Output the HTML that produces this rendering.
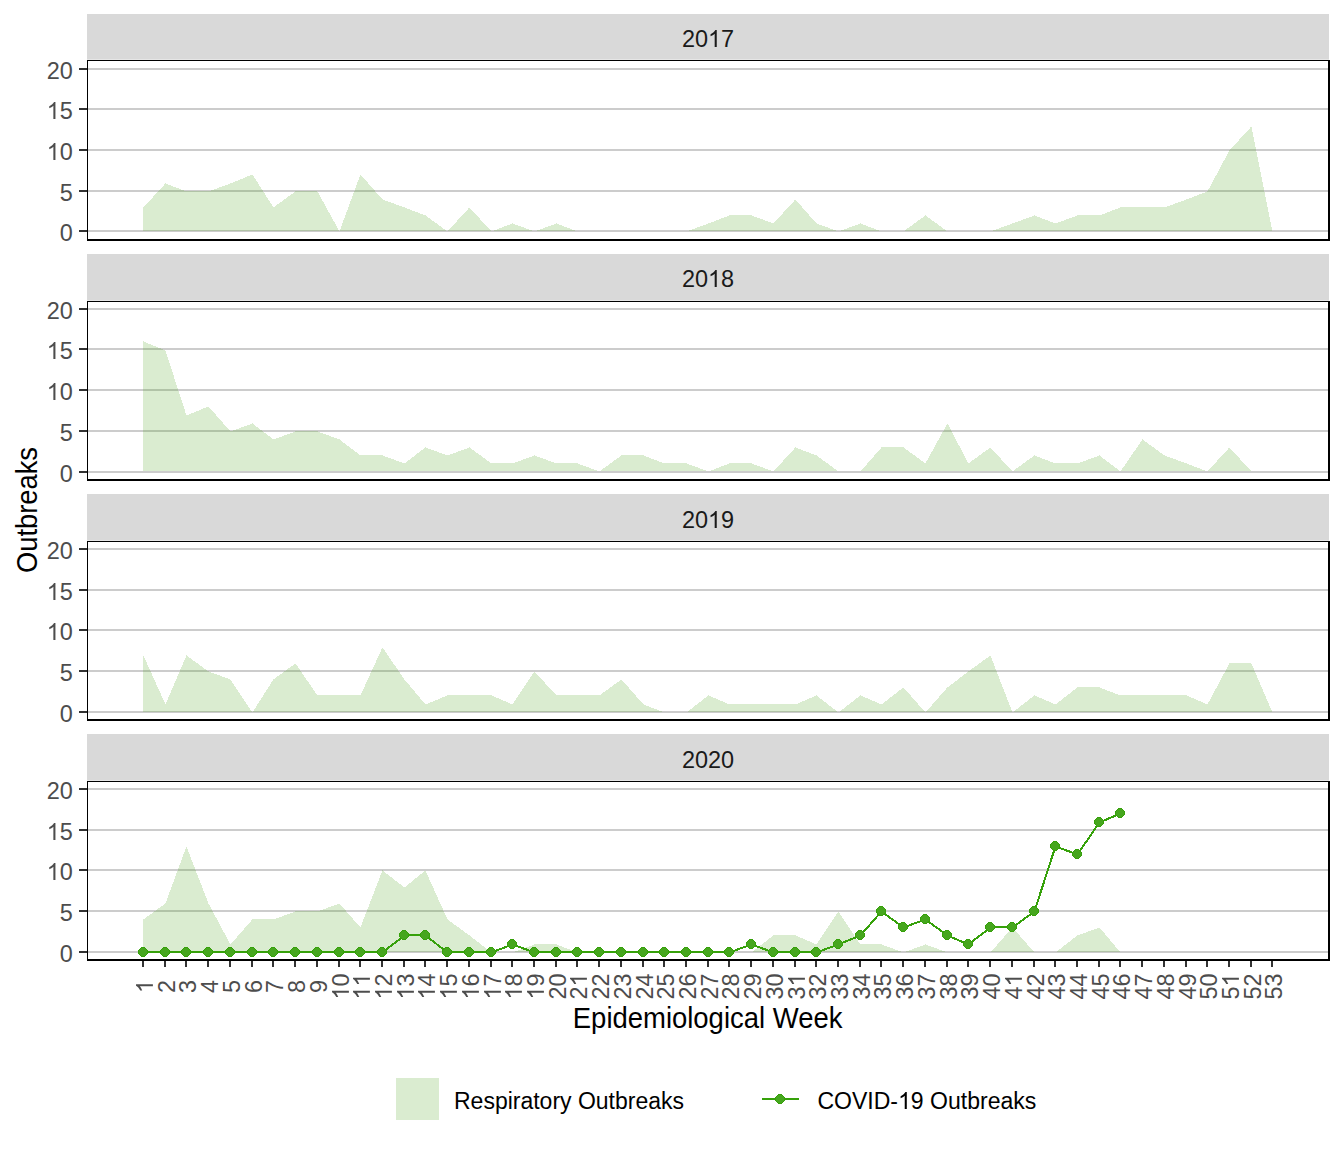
<!DOCTYPE html><html><head><meta charset="utf-8"><style>html,body{margin:0;padding:0;background:#fff;overflow:hidden}svg{display:block}text{font-family:"Liberation Sans",sans-serif}</style></head><body>
<svg width="1344" height="1152" viewBox="0 0 1344 1152">
<rect x="0" y="0" width="1344" height="1152" fill="#fff"/>
<g shape-rendering="crispEdges">
<rect x="87" y="14" width="1242" height="45" fill="#D9D9D9"/>
<rect x="87" y="59" width="1242" height="1" fill="#E6E6E6"/>
<rect x="87" y="68" width="1242" height="2" fill="#CCCCCC"/>
<rect x="79" y="68" width="8" height="2" fill="#333333"/>
<rect x="87" y="108" width="1242" height="2" fill="#CCCCCC"/>
<rect x="79" y="108" width="8" height="2" fill="#333333"/>
<rect x="87" y="149" width="1242" height="2" fill="#CCCCCC"/>
<rect x="79" y="149" width="8" height="2" fill="#333333"/>
<rect x="87" y="190" width="1242" height="2" fill="#CCCCCC"/>
<rect x="79" y="190" width="8" height="2" fill="#333333"/>
<rect x="87" y="230" width="1242" height="2" fill="#CCCCCC"/>
<rect x="79" y="230" width="8" height="2" fill="#333333"/>
<polygon points="143.45,231.45 143.45,207.45 165.45,183.45 186.45,191.45 208.45,191.45 230.45,183.45 252.45,174.45 273.45,207.45 295.45,191.45 317.45,191.45 339.45,231.45 360.45,174.45 382.45,199.45 404.45,207.45 425.45,215.45 447.45,231.45 469.45,207.45 491.45,231.45 512.45,223.45 534.45,231.45 556.45,223.45 577.45,231.45 599.45,231.45 621.45,231.45 643.45,231.45 664.45,231.45 686.45,231.45 708.45,223.45 729.45,215.45 751.45,215.45 773.45,223.45 795.45,199.45 816.45,223.45 838.45,231.45 860.45,223.45 881.45,231.45 903.45,231.45 925.45,215.45 947.45,231.45 968.45,231.45 990.45,231.45 1012.45,223.45 1034.45,215.45 1055.45,223.45 1077.45,215.45 1099.45,215.45 1120.45,207.45 1142.45,207.45 1164.45,207.45 1186.45,199.45 1207.45,191.45 1229.45,150.45 1251.45,126.45 1272.45,231.45 1272.45,231.45" fill="#46A014" fill-opacity="0.2"/>
<rect x="87" y="60" width="1242" height="1" fill="#000"/>
<rect x="87" y="239" width="1242" height="2" fill="#000"/>
<rect x="87" y="60" width="1" height="181" fill="#000"/>
<rect x="1328" y="60" width="2" height="181" fill="#000"/>
<rect x="87" y="254" width="1242" height="46" fill="#D9D9D9"/>
<rect x="87" y="300" width="1242" height="1" fill="#E6E6E6"/>
<rect x="87" y="308" width="1242" height="2" fill="#CCCCCC"/>
<rect x="79" y="308" width="8" height="2" fill="#333333"/>
<rect x="87" y="348" width="1242" height="2" fill="#CCCCCC"/>
<rect x="79" y="348" width="8" height="2" fill="#333333"/>
<rect x="87" y="389" width="1242" height="2" fill="#CCCCCC"/>
<rect x="79" y="389" width="8" height="2" fill="#333333"/>
<rect x="87" y="430" width="1242" height="2" fill="#CCCCCC"/>
<rect x="79" y="430" width="8" height="2" fill="#333333"/>
<rect x="87" y="471" width="1242" height="2" fill="#CCCCCC"/>
<rect x="79" y="471" width="8" height="2" fill="#333333"/>
<polygon points="143.45,471.45 143.45,341.45 165.45,350.45 186.45,415.45 208.45,406.45 230.45,431.45 252.45,423.45 273.45,439.45 295.45,431.45 317.45,431.45 339.45,439.45 360.45,455.45 382.45,455.45 404.45,463.45 425.45,447.45 447.45,455.45 469.45,447.45 491.45,463.45 512.45,463.45 534.45,455.45 556.45,463.45 577.45,463.45 599.45,471.45 621.45,455.45 643.45,455.45 664.45,463.45 686.45,463.45 708.45,471.45 729.45,463.45 751.45,463.45 773.45,471.45 795.45,447.45 816.45,455.45 838.45,471.45 860.45,471.45 881.45,447.45 903.45,447.45 925.45,463.45 947.45,423.45 968.45,463.45 990.45,447.45 1012.45,471.45 1034.45,455.45 1055.45,463.45 1077.45,463.45 1099.45,455.45 1120.45,471.45 1142.45,439.45 1164.45,455.45 1186.45,463.45 1207.45,471.45 1229.45,447.45 1251.45,471.45 1272.45,471.45 1272.45,471.45" fill="#46A014" fill-opacity="0.2"/>
<rect x="87" y="301" width="1242" height="1" fill="#000"/>
<rect x="87" y="479" width="1242" height="2" fill="#000"/>
<rect x="87" y="301" width="1" height="180" fill="#000"/>
<rect x="1328" y="301" width="2" height="180" fill="#000"/>
<rect x="87" y="494" width="1242" height="46" fill="#D9D9D9"/>
<rect x="87" y="540" width="1242" height="1" fill="#E6E6E6"/>
<rect x="87" y="548" width="1242" height="2" fill="#CCCCCC"/>
<rect x="79" y="548" width="8" height="2" fill="#333333"/>
<rect x="87" y="589" width="1242" height="2" fill="#CCCCCC"/>
<rect x="79" y="589" width="8" height="2" fill="#333333"/>
<rect x="87" y="629" width="1242" height="2" fill="#CCCCCC"/>
<rect x="79" y="629" width="8" height="2" fill="#333333"/>
<rect x="87" y="670" width="1242" height="2" fill="#CCCCCC"/>
<rect x="79" y="670" width="8" height="2" fill="#333333"/>
<rect x="87" y="711" width="1242" height="2" fill="#CCCCCC"/>
<rect x="79" y="711" width="8" height="2" fill="#333333"/>
<polygon points="143.45,712.45 143.45,655.45 165.45,704.45 186.45,655.45 208.45,671.45 230.45,679.45 252.45,712.45 273.45,679.45 295.45,663.45 317.45,695.45 339.45,695.45 360.45,695.45 382.45,647.45 404.45,679.45 425.45,704.45 447.45,695.45 469.45,695.45 491.45,695.45 512.45,704.45 534.45,671.45 556.45,695.45 577.45,695.45 599.45,695.45 621.45,679.45 643.45,704.45 664.45,712.45 686.45,712.45 708.45,695.45 729.45,704.45 751.45,704.45 773.45,704.45 795.45,704.45 816.45,695.45 838.45,712.45 860.45,695.45 881.45,704.45 903.45,687.45 925.45,712.45 947.45,687.45 968.45,671.45 990.45,655.45 1012.45,712.45 1034.45,695.45 1055.45,704.45 1077.45,687.45 1099.45,687.45 1120.45,695.45 1142.45,695.45 1164.45,695.45 1186.45,695.45 1207.45,704.45 1229.45,663.45 1251.45,663.45 1272.45,712.45 1272.45,712.45" fill="#46A014" fill-opacity="0.2"/>
<rect x="87" y="541" width="1242" height="1" fill="#000"/>
<rect x="87" y="719" width="1242" height="2" fill="#000"/>
<rect x="87" y="541" width="1" height="180" fill="#000"/>
<rect x="1328" y="541" width="2" height="180" fill="#000"/>
<rect x="87" y="734" width="1242" height="46" fill="#D9D9D9"/>
<rect x="87" y="780" width="1242" height="1" fill="#E6E6E6"/>
<rect x="87" y="788" width="1242" height="2" fill="#CCCCCC"/>
<rect x="79" y="788" width="8" height="2" fill="#333333"/>
<rect x="87" y="829" width="1242" height="2" fill="#CCCCCC"/>
<rect x="79" y="829" width="8" height="2" fill="#333333"/>
<rect x="87" y="869" width="1242" height="2" fill="#CCCCCC"/>
<rect x="79" y="869" width="8" height="2" fill="#333333"/>
<rect x="87" y="910" width="1242" height="2" fill="#CCCCCC"/>
<rect x="79" y="910" width="8" height="2" fill="#333333"/>
<rect x="87" y="951" width="1242" height="2" fill="#CCCCCC"/>
<rect x="79" y="951" width="8" height="2" fill="#333333"/>
<polygon points="143.45,952.45 143.45,919.45 165.45,903.45 186.45,846.45 208.45,903.45 230.45,944.45 252.45,919.45 273.45,919.45 295.45,911.45 317.45,911.45 339.45,903.45 360.45,927.45 382.45,870.45 404.45,887.45 425.45,870.45 447.45,919.45 469.45,935.45 491.45,952.45 512.45,952.45 534.45,944.45 556.45,944.45 577.45,952.45 599.45,952.45 621.45,952.45 643.45,952.45 664.45,952.45 686.45,952.45 708.45,952.45 729.45,952.45 751.45,952.45 773.45,935.45 795.45,935.45 816.45,944.45 838.45,911.45 860.45,944.45 881.45,944.45 903.45,952.45 925.45,944.45 947.45,952.45 968.45,952.45 990.45,952.45 1012.45,927.45 1034.45,952.45 1055.45,952.45 1077.45,935.45 1099.45,927.45 1120.45,952.45 1120.45,952.45" fill="#46A014" fill-opacity="0.2"/>
<polyline points="143.45,952.45 165.45,952.45 186.45,952.45 208.45,952.45 230.45,952.45 252.45,952.45 273.45,952.45 295.45,952.45 317.45,952.45 339.45,952.45 360.45,952.45 382.45,952.45 404.45,935.45 425.45,935.45 447.45,952.45 469.45,952.45 491.45,952.45 512.45,944.45 534.45,952.45 556.45,952.45 577.45,952.45 599.45,952.45 621.45,952.45 643.45,952.45 664.45,952.45 686.45,952.45 708.45,952.45 729.45,952.45 751.45,944.45 773.45,952.45 795.45,952.45 816.45,952.45 838.45,944.45 860.45,935.45 881.45,911.45 903.45,927.45 925.45,919.45 947.45,935.45 968.45,944.45 990.45,927.45 1012.45,927.45 1034.45,911.45 1055.45,846.45 1077.45,854.45 1099.45,822.45 1120.45,813.45" fill="none" stroke="#36A10A" stroke-width="2" stroke-linejoin="miter"/>
<polygon points="141,947 145,947 145,948 146,948 146,949 147,949 147,950 148,950 148,954 147,954 147,955 146,955 146,956 145,956 145,957 141,957 141,956 140,956 140,955 139,955 139,954 138,954 138,950 139,950 139,949 140,949 140,948 141,948" fill="#36A10A"/><polygon points="141,948 145,948 145,949 146,949 146,950 147,950 147,954 146,954 146,955 145,955 145,956 141,956 141,955 140,955 140,954 139,954 139,950 140,950 140,949 141,949" fill="#46A61E"/>
<polygon points="163,947 167,947 167,948 168,948 168,949 169,949 169,950 170,950 170,954 169,954 169,955 168,955 168,956 167,956 167,957 163,957 163,956 162,956 162,955 161,955 161,954 160,954 160,950 161,950 161,949 162,949 162,948 163,948" fill="#36A10A"/><polygon points="163,948 167,948 167,949 168,949 168,950 169,950 169,954 168,954 168,955 167,955 167,956 163,956 163,955 162,955 162,954 161,954 161,950 162,950 162,949 163,949" fill="#46A61E"/>
<polygon points="184,947 188,947 188,948 189,948 189,949 190,949 190,950 191,950 191,954 190,954 190,955 189,955 189,956 188,956 188,957 184,957 184,956 183,956 183,955 182,955 182,954 181,954 181,950 182,950 182,949 183,949 183,948 184,948" fill="#36A10A"/><polygon points="184,948 188,948 188,949 189,949 189,950 190,950 190,954 189,954 189,955 188,955 188,956 184,956 184,955 183,955 183,954 182,954 182,950 183,950 183,949 184,949" fill="#46A61E"/>
<polygon points="206,947 210,947 210,948 211,948 211,949 212,949 212,950 213,950 213,954 212,954 212,955 211,955 211,956 210,956 210,957 206,957 206,956 205,956 205,955 204,955 204,954 203,954 203,950 204,950 204,949 205,949 205,948 206,948" fill="#36A10A"/><polygon points="206,948 210,948 210,949 211,949 211,950 212,950 212,954 211,954 211,955 210,955 210,956 206,956 206,955 205,955 205,954 204,954 204,950 205,950 205,949 206,949" fill="#46A61E"/>
<polygon points="228,947 232,947 232,948 233,948 233,949 234,949 234,950 235,950 235,954 234,954 234,955 233,955 233,956 232,956 232,957 228,957 228,956 227,956 227,955 226,955 226,954 225,954 225,950 226,950 226,949 227,949 227,948 228,948" fill="#36A10A"/><polygon points="228,948 232,948 232,949 233,949 233,950 234,950 234,954 233,954 233,955 232,955 232,956 228,956 228,955 227,955 227,954 226,954 226,950 227,950 227,949 228,949" fill="#46A61E"/>
<polygon points="250,947 254,947 254,948 255,948 255,949 256,949 256,950 257,950 257,954 256,954 256,955 255,955 255,956 254,956 254,957 250,957 250,956 249,956 249,955 248,955 248,954 247,954 247,950 248,950 248,949 249,949 249,948 250,948" fill="#36A10A"/><polygon points="250,948 254,948 254,949 255,949 255,950 256,950 256,954 255,954 255,955 254,955 254,956 250,956 250,955 249,955 249,954 248,954 248,950 249,950 249,949 250,949" fill="#46A61E"/>
<polygon points="271,947 275,947 275,948 276,948 276,949 277,949 277,950 278,950 278,954 277,954 277,955 276,955 276,956 275,956 275,957 271,957 271,956 270,956 270,955 269,955 269,954 268,954 268,950 269,950 269,949 270,949 270,948 271,948" fill="#36A10A"/><polygon points="271,948 275,948 275,949 276,949 276,950 277,950 277,954 276,954 276,955 275,955 275,956 271,956 271,955 270,955 270,954 269,954 269,950 270,950 270,949 271,949" fill="#46A61E"/>
<polygon points="293,947 297,947 297,948 298,948 298,949 299,949 299,950 300,950 300,954 299,954 299,955 298,955 298,956 297,956 297,957 293,957 293,956 292,956 292,955 291,955 291,954 290,954 290,950 291,950 291,949 292,949 292,948 293,948" fill="#36A10A"/><polygon points="293,948 297,948 297,949 298,949 298,950 299,950 299,954 298,954 298,955 297,955 297,956 293,956 293,955 292,955 292,954 291,954 291,950 292,950 292,949 293,949" fill="#46A61E"/>
<polygon points="315,947 319,947 319,948 320,948 320,949 321,949 321,950 322,950 322,954 321,954 321,955 320,955 320,956 319,956 319,957 315,957 315,956 314,956 314,955 313,955 313,954 312,954 312,950 313,950 313,949 314,949 314,948 315,948" fill="#36A10A"/><polygon points="315,948 319,948 319,949 320,949 320,950 321,950 321,954 320,954 320,955 319,955 319,956 315,956 315,955 314,955 314,954 313,954 313,950 314,950 314,949 315,949" fill="#46A61E"/>
<polygon points="337,947 341,947 341,948 342,948 342,949 343,949 343,950 344,950 344,954 343,954 343,955 342,955 342,956 341,956 341,957 337,957 337,956 336,956 336,955 335,955 335,954 334,954 334,950 335,950 335,949 336,949 336,948 337,948" fill="#36A10A"/><polygon points="337,948 341,948 341,949 342,949 342,950 343,950 343,954 342,954 342,955 341,955 341,956 337,956 337,955 336,955 336,954 335,954 335,950 336,950 336,949 337,949" fill="#46A61E"/>
<polygon points="358,947 362,947 362,948 363,948 363,949 364,949 364,950 365,950 365,954 364,954 364,955 363,955 363,956 362,956 362,957 358,957 358,956 357,956 357,955 356,955 356,954 355,954 355,950 356,950 356,949 357,949 357,948 358,948" fill="#36A10A"/><polygon points="358,948 362,948 362,949 363,949 363,950 364,950 364,954 363,954 363,955 362,955 362,956 358,956 358,955 357,955 357,954 356,954 356,950 357,950 357,949 358,949" fill="#46A61E"/>
<polygon points="380,947 384,947 384,948 385,948 385,949 386,949 386,950 387,950 387,954 386,954 386,955 385,955 385,956 384,956 384,957 380,957 380,956 379,956 379,955 378,955 378,954 377,954 377,950 378,950 378,949 379,949 379,948 380,948" fill="#36A10A"/><polygon points="380,948 384,948 384,949 385,949 385,950 386,950 386,954 385,954 385,955 384,955 384,956 380,956 380,955 379,955 379,954 378,954 378,950 379,950 379,949 380,949" fill="#46A61E"/>
<polygon points="402,930 406,930 406,931 407,931 407,932 408,932 408,933 409,933 409,937 408,937 408,938 407,938 407,939 406,939 406,940 402,940 402,939 401,939 401,938 400,938 400,937 399,937 399,933 400,933 400,932 401,932 401,931 402,931" fill="#36A10A"/><polygon points="402,931 406,931 406,932 407,932 407,933 408,933 408,937 407,937 407,938 406,938 406,939 402,939 402,938 401,938 401,937 400,937 400,933 401,933 401,932 402,932" fill="#46A61E"/>
<polygon points="423,930 427,930 427,931 428,931 428,932 429,932 429,933 430,933 430,937 429,937 429,938 428,938 428,939 427,939 427,940 423,940 423,939 422,939 422,938 421,938 421,937 420,937 420,933 421,933 421,932 422,932 422,931 423,931" fill="#36A10A"/><polygon points="423,931 427,931 427,932 428,932 428,933 429,933 429,937 428,937 428,938 427,938 427,939 423,939 423,938 422,938 422,937 421,937 421,933 422,933 422,932 423,932" fill="#46A61E"/>
<polygon points="445,947 449,947 449,948 450,948 450,949 451,949 451,950 452,950 452,954 451,954 451,955 450,955 450,956 449,956 449,957 445,957 445,956 444,956 444,955 443,955 443,954 442,954 442,950 443,950 443,949 444,949 444,948 445,948" fill="#36A10A"/><polygon points="445,948 449,948 449,949 450,949 450,950 451,950 451,954 450,954 450,955 449,955 449,956 445,956 445,955 444,955 444,954 443,954 443,950 444,950 444,949 445,949" fill="#46A61E"/>
<polygon points="467,947 471,947 471,948 472,948 472,949 473,949 473,950 474,950 474,954 473,954 473,955 472,955 472,956 471,956 471,957 467,957 467,956 466,956 466,955 465,955 465,954 464,954 464,950 465,950 465,949 466,949 466,948 467,948" fill="#36A10A"/><polygon points="467,948 471,948 471,949 472,949 472,950 473,950 473,954 472,954 472,955 471,955 471,956 467,956 467,955 466,955 466,954 465,954 465,950 466,950 466,949 467,949" fill="#46A61E"/>
<polygon points="489,947 493,947 493,948 494,948 494,949 495,949 495,950 496,950 496,954 495,954 495,955 494,955 494,956 493,956 493,957 489,957 489,956 488,956 488,955 487,955 487,954 486,954 486,950 487,950 487,949 488,949 488,948 489,948" fill="#36A10A"/><polygon points="489,948 493,948 493,949 494,949 494,950 495,950 495,954 494,954 494,955 493,955 493,956 489,956 489,955 488,955 488,954 487,954 487,950 488,950 488,949 489,949" fill="#46A61E"/>
<polygon points="510,939 514,939 514,940 515,940 515,941 516,941 516,942 517,942 517,946 516,946 516,947 515,947 515,948 514,948 514,949 510,949 510,948 509,948 509,947 508,947 508,946 507,946 507,942 508,942 508,941 509,941 509,940 510,940" fill="#36A10A"/><polygon points="510,940 514,940 514,941 515,941 515,942 516,942 516,946 515,946 515,947 514,947 514,948 510,948 510,947 509,947 509,946 508,946 508,942 509,942 509,941 510,941" fill="#46A61E"/>
<polygon points="532,947 536,947 536,948 537,948 537,949 538,949 538,950 539,950 539,954 538,954 538,955 537,955 537,956 536,956 536,957 532,957 532,956 531,956 531,955 530,955 530,954 529,954 529,950 530,950 530,949 531,949 531,948 532,948" fill="#36A10A"/><polygon points="532,948 536,948 536,949 537,949 537,950 538,950 538,954 537,954 537,955 536,955 536,956 532,956 532,955 531,955 531,954 530,954 530,950 531,950 531,949 532,949" fill="#46A61E"/>
<polygon points="554,947 558,947 558,948 559,948 559,949 560,949 560,950 561,950 561,954 560,954 560,955 559,955 559,956 558,956 558,957 554,957 554,956 553,956 553,955 552,955 552,954 551,954 551,950 552,950 552,949 553,949 553,948 554,948" fill="#36A10A"/><polygon points="554,948 558,948 558,949 559,949 559,950 560,950 560,954 559,954 559,955 558,955 558,956 554,956 554,955 553,955 553,954 552,954 552,950 553,950 553,949 554,949" fill="#46A61E"/>
<polygon points="575,947 579,947 579,948 580,948 580,949 581,949 581,950 582,950 582,954 581,954 581,955 580,955 580,956 579,956 579,957 575,957 575,956 574,956 574,955 573,955 573,954 572,954 572,950 573,950 573,949 574,949 574,948 575,948" fill="#36A10A"/><polygon points="575,948 579,948 579,949 580,949 580,950 581,950 581,954 580,954 580,955 579,955 579,956 575,956 575,955 574,955 574,954 573,954 573,950 574,950 574,949 575,949" fill="#46A61E"/>
<polygon points="597,947 601,947 601,948 602,948 602,949 603,949 603,950 604,950 604,954 603,954 603,955 602,955 602,956 601,956 601,957 597,957 597,956 596,956 596,955 595,955 595,954 594,954 594,950 595,950 595,949 596,949 596,948 597,948" fill="#36A10A"/><polygon points="597,948 601,948 601,949 602,949 602,950 603,950 603,954 602,954 602,955 601,955 601,956 597,956 597,955 596,955 596,954 595,954 595,950 596,950 596,949 597,949" fill="#46A61E"/>
<polygon points="619,947 623,947 623,948 624,948 624,949 625,949 625,950 626,950 626,954 625,954 625,955 624,955 624,956 623,956 623,957 619,957 619,956 618,956 618,955 617,955 617,954 616,954 616,950 617,950 617,949 618,949 618,948 619,948" fill="#36A10A"/><polygon points="619,948 623,948 623,949 624,949 624,950 625,950 625,954 624,954 624,955 623,955 623,956 619,956 619,955 618,955 618,954 617,954 617,950 618,950 618,949 619,949" fill="#46A61E"/>
<polygon points="641,947 645,947 645,948 646,948 646,949 647,949 647,950 648,950 648,954 647,954 647,955 646,955 646,956 645,956 645,957 641,957 641,956 640,956 640,955 639,955 639,954 638,954 638,950 639,950 639,949 640,949 640,948 641,948" fill="#36A10A"/><polygon points="641,948 645,948 645,949 646,949 646,950 647,950 647,954 646,954 646,955 645,955 645,956 641,956 641,955 640,955 640,954 639,954 639,950 640,950 640,949 641,949" fill="#46A61E"/>
<polygon points="662,947 666,947 666,948 667,948 667,949 668,949 668,950 669,950 669,954 668,954 668,955 667,955 667,956 666,956 666,957 662,957 662,956 661,956 661,955 660,955 660,954 659,954 659,950 660,950 660,949 661,949 661,948 662,948" fill="#36A10A"/><polygon points="662,948 666,948 666,949 667,949 667,950 668,950 668,954 667,954 667,955 666,955 666,956 662,956 662,955 661,955 661,954 660,954 660,950 661,950 661,949 662,949" fill="#46A61E"/>
<polygon points="684,947 688,947 688,948 689,948 689,949 690,949 690,950 691,950 691,954 690,954 690,955 689,955 689,956 688,956 688,957 684,957 684,956 683,956 683,955 682,955 682,954 681,954 681,950 682,950 682,949 683,949 683,948 684,948" fill="#36A10A"/><polygon points="684,948 688,948 688,949 689,949 689,950 690,950 690,954 689,954 689,955 688,955 688,956 684,956 684,955 683,955 683,954 682,954 682,950 683,950 683,949 684,949" fill="#46A61E"/>
<polygon points="706,947 710,947 710,948 711,948 711,949 712,949 712,950 713,950 713,954 712,954 712,955 711,955 711,956 710,956 710,957 706,957 706,956 705,956 705,955 704,955 704,954 703,954 703,950 704,950 704,949 705,949 705,948 706,948" fill="#36A10A"/><polygon points="706,948 710,948 710,949 711,949 711,950 712,950 712,954 711,954 711,955 710,955 710,956 706,956 706,955 705,955 705,954 704,954 704,950 705,950 705,949 706,949" fill="#46A61E"/>
<polygon points="727,947 731,947 731,948 732,948 732,949 733,949 733,950 734,950 734,954 733,954 733,955 732,955 732,956 731,956 731,957 727,957 727,956 726,956 726,955 725,955 725,954 724,954 724,950 725,950 725,949 726,949 726,948 727,948" fill="#36A10A"/><polygon points="727,948 731,948 731,949 732,949 732,950 733,950 733,954 732,954 732,955 731,955 731,956 727,956 727,955 726,955 726,954 725,954 725,950 726,950 726,949 727,949" fill="#46A61E"/>
<polygon points="749,939 753,939 753,940 754,940 754,941 755,941 755,942 756,942 756,946 755,946 755,947 754,947 754,948 753,948 753,949 749,949 749,948 748,948 748,947 747,947 747,946 746,946 746,942 747,942 747,941 748,941 748,940 749,940" fill="#36A10A"/><polygon points="749,940 753,940 753,941 754,941 754,942 755,942 755,946 754,946 754,947 753,947 753,948 749,948 749,947 748,947 748,946 747,946 747,942 748,942 748,941 749,941" fill="#46A61E"/>
<polygon points="771,947 775,947 775,948 776,948 776,949 777,949 777,950 778,950 778,954 777,954 777,955 776,955 776,956 775,956 775,957 771,957 771,956 770,956 770,955 769,955 769,954 768,954 768,950 769,950 769,949 770,949 770,948 771,948" fill="#36A10A"/><polygon points="771,948 775,948 775,949 776,949 776,950 777,950 777,954 776,954 776,955 775,955 775,956 771,956 771,955 770,955 770,954 769,954 769,950 770,950 770,949 771,949" fill="#46A61E"/>
<polygon points="793,947 797,947 797,948 798,948 798,949 799,949 799,950 800,950 800,954 799,954 799,955 798,955 798,956 797,956 797,957 793,957 793,956 792,956 792,955 791,955 791,954 790,954 790,950 791,950 791,949 792,949 792,948 793,948" fill="#36A10A"/><polygon points="793,948 797,948 797,949 798,949 798,950 799,950 799,954 798,954 798,955 797,955 797,956 793,956 793,955 792,955 792,954 791,954 791,950 792,950 792,949 793,949" fill="#46A61E"/>
<polygon points="814,947 818,947 818,948 819,948 819,949 820,949 820,950 821,950 821,954 820,954 820,955 819,955 819,956 818,956 818,957 814,957 814,956 813,956 813,955 812,955 812,954 811,954 811,950 812,950 812,949 813,949 813,948 814,948" fill="#36A10A"/><polygon points="814,948 818,948 818,949 819,949 819,950 820,950 820,954 819,954 819,955 818,955 818,956 814,956 814,955 813,955 813,954 812,954 812,950 813,950 813,949 814,949" fill="#46A61E"/>
<polygon points="836,939 840,939 840,940 841,940 841,941 842,941 842,942 843,942 843,946 842,946 842,947 841,947 841,948 840,948 840,949 836,949 836,948 835,948 835,947 834,947 834,946 833,946 833,942 834,942 834,941 835,941 835,940 836,940" fill="#36A10A"/><polygon points="836,940 840,940 840,941 841,941 841,942 842,942 842,946 841,946 841,947 840,947 840,948 836,948 836,947 835,947 835,946 834,946 834,942 835,942 835,941 836,941" fill="#46A61E"/>
<polygon points="858,930 862,930 862,931 863,931 863,932 864,932 864,933 865,933 865,937 864,937 864,938 863,938 863,939 862,939 862,940 858,940 858,939 857,939 857,938 856,938 856,937 855,937 855,933 856,933 856,932 857,932 857,931 858,931" fill="#36A10A"/><polygon points="858,931 862,931 862,932 863,932 863,933 864,933 864,937 863,937 863,938 862,938 862,939 858,939 858,938 857,938 857,937 856,937 856,933 857,933 857,932 858,932" fill="#46A61E"/>
<polygon points="879,906 883,906 883,907 884,907 884,908 885,908 885,909 886,909 886,913 885,913 885,914 884,914 884,915 883,915 883,916 879,916 879,915 878,915 878,914 877,914 877,913 876,913 876,909 877,909 877,908 878,908 878,907 879,907" fill="#36A10A"/><polygon points="879,907 883,907 883,908 884,908 884,909 885,909 885,913 884,913 884,914 883,914 883,915 879,915 879,914 878,914 878,913 877,913 877,909 878,909 878,908 879,908" fill="#46A61E"/>
<polygon points="901,922 905,922 905,923 906,923 906,924 907,924 907,925 908,925 908,929 907,929 907,930 906,930 906,931 905,931 905,932 901,932 901,931 900,931 900,930 899,930 899,929 898,929 898,925 899,925 899,924 900,924 900,923 901,923" fill="#36A10A"/><polygon points="901,923 905,923 905,924 906,924 906,925 907,925 907,929 906,929 906,930 905,930 905,931 901,931 901,930 900,930 900,929 899,929 899,925 900,925 900,924 901,924" fill="#46A61E"/>
<polygon points="923,914 927,914 927,915 928,915 928,916 929,916 929,917 930,917 930,921 929,921 929,922 928,922 928,923 927,923 927,924 923,924 923,923 922,923 922,922 921,922 921,921 920,921 920,917 921,917 921,916 922,916 922,915 923,915" fill="#36A10A"/><polygon points="923,915 927,915 927,916 928,916 928,917 929,917 929,921 928,921 928,922 927,922 927,923 923,923 923,922 922,922 922,921 921,921 921,917 922,917 922,916 923,916" fill="#46A61E"/>
<polygon points="945,930 949,930 949,931 950,931 950,932 951,932 951,933 952,933 952,937 951,937 951,938 950,938 950,939 949,939 949,940 945,940 945,939 944,939 944,938 943,938 943,937 942,937 942,933 943,933 943,932 944,932 944,931 945,931" fill="#36A10A"/><polygon points="945,931 949,931 949,932 950,932 950,933 951,933 951,937 950,937 950,938 949,938 949,939 945,939 945,938 944,938 944,937 943,937 943,933 944,933 944,932 945,932" fill="#46A61E"/>
<polygon points="966,939 970,939 970,940 971,940 971,941 972,941 972,942 973,942 973,946 972,946 972,947 971,947 971,948 970,948 970,949 966,949 966,948 965,948 965,947 964,947 964,946 963,946 963,942 964,942 964,941 965,941 965,940 966,940" fill="#36A10A"/><polygon points="966,940 970,940 970,941 971,941 971,942 972,942 972,946 971,946 971,947 970,947 970,948 966,948 966,947 965,947 965,946 964,946 964,942 965,942 965,941 966,941" fill="#46A61E"/>
<polygon points="988,922 992,922 992,923 993,923 993,924 994,924 994,925 995,925 995,929 994,929 994,930 993,930 993,931 992,931 992,932 988,932 988,931 987,931 987,930 986,930 986,929 985,929 985,925 986,925 986,924 987,924 987,923 988,923" fill="#36A10A"/><polygon points="988,923 992,923 992,924 993,924 993,925 994,925 994,929 993,929 993,930 992,930 992,931 988,931 988,930 987,930 987,929 986,929 986,925 987,925 987,924 988,924" fill="#46A61E"/>
<polygon points="1010,922 1014,922 1014,923 1015,923 1015,924 1016,924 1016,925 1017,925 1017,929 1016,929 1016,930 1015,930 1015,931 1014,931 1014,932 1010,932 1010,931 1009,931 1009,930 1008,930 1008,929 1007,929 1007,925 1008,925 1008,924 1009,924 1009,923 1010,923" fill="#36A10A"/><polygon points="1010,923 1014,923 1014,924 1015,924 1015,925 1016,925 1016,929 1015,929 1015,930 1014,930 1014,931 1010,931 1010,930 1009,930 1009,929 1008,929 1008,925 1009,925 1009,924 1010,924" fill="#46A61E"/>
<polygon points="1032,906 1036,906 1036,907 1037,907 1037,908 1038,908 1038,909 1039,909 1039,913 1038,913 1038,914 1037,914 1037,915 1036,915 1036,916 1032,916 1032,915 1031,915 1031,914 1030,914 1030,913 1029,913 1029,909 1030,909 1030,908 1031,908 1031,907 1032,907" fill="#36A10A"/><polygon points="1032,907 1036,907 1036,908 1037,908 1037,909 1038,909 1038,913 1037,913 1037,914 1036,914 1036,915 1032,915 1032,914 1031,914 1031,913 1030,913 1030,909 1031,909 1031,908 1032,908" fill="#46A61E"/>
<polygon points="1053,841 1057,841 1057,842 1058,842 1058,843 1059,843 1059,844 1060,844 1060,848 1059,848 1059,849 1058,849 1058,850 1057,850 1057,851 1053,851 1053,850 1052,850 1052,849 1051,849 1051,848 1050,848 1050,844 1051,844 1051,843 1052,843 1052,842 1053,842" fill="#36A10A"/><polygon points="1053,842 1057,842 1057,843 1058,843 1058,844 1059,844 1059,848 1058,848 1058,849 1057,849 1057,850 1053,850 1053,849 1052,849 1052,848 1051,848 1051,844 1052,844 1052,843 1053,843" fill="#46A61E"/>
<polygon points="1075,849 1079,849 1079,850 1080,850 1080,851 1081,851 1081,852 1082,852 1082,856 1081,856 1081,857 1080,857 1080,858 1079,858 1079,859 1075,859 1075,858 1074,858 1074,857 1073,857 1073,856 1072,856 1072,852 1073,852 1073,851 1074,851 1074,850 1075,850" fill="#36A10A"/><polygon points="1075,850 1079,850 1079,851 1080,851 1080,852 1081,852 1081,856 1080,856 1080,857 1079,857 1079,858 1075,858 1075,857 1074,857 1074,856 1073,856 1073,852 1074,852 1074,851 1075,851" fill="#46A61E"/>
<polygon points="1097,817 1101,817 1101,818 1102,818 1102,819 1103,819 1103,820 1104,820 1104,824 1103,824 1103,825 1102,825 1102,826 1101,826 1101,827 1097,827 1097,826 1096,826 1096,825 1095,825 1095,824 1094,824 1094,820 1095,820 1095,819 1096,819 1096,818 1097,818" fill="#36A10A"/><polygon points="1097,818 1101,818 1101,819 1102,819 1102,820 1103,820 1103,824 1102,824 1102,825 1101,825 1101,826 1097,826 1097,825 1096,825 1096,824 1095,824 1095,820 1096,820 1096,819 1097,819" fill="#46A61E"/>
<polygon points="1118,808 1122,808 1122,809 1123,809 1123,810 1124,810 1124,811 1125,811 1125,815 1124,815 1124,816 1123,816 1123,817 1122,817 1122,818 1118,818 1118,817 1117,817 1117,816 1116,816 1116,815 1115,815 1115,811 1116,811 1116,810 1117,810 1117,809 1118,809" fill="#36A10A"/><polygon points="1118,809 1122,809 1122,810 1123,810 1123,811 1124,811 1124,815 1123,815 1123,816 1122,816 1122,817 1118,817 1118,816 1117,816 1117,815 1116,815 1116,811 1117,811 1117,810 1118,810" fill="#46A61E"/>
<rect x="87" y="781" width="1242" height="1" fill="#000"/>
<rect x="87" y="959" width="1242" height="2" fill="#000"/>
<rect x="87" y="781" width="1" height="180" fill="#000"/>
<rect x="1328" y="781" width="2" height="180" fill="#000"/>
<rect x="142" y="961" width="2" height="6" fill="#333333"/>
<rect x="164" y="961" width="2" height="6" fill="#333333"/>
<rect x="185" y="961" width="2" height="6" fill="#333333"/>
<rect x="207" y="961" width="2" height="6" fill="#333333"/>
<rect x="229" y="961" width="2" height="6" fill="#333333"/>
<rect x="251" y="961" width="2" height="6" fill="#333333"/>
<rect x="272" y="961" width="2" height="6" fill="#333333"/>
<rect x="294" y="961" width="2" height="6" fill="#333333"/>
<rect x="316" y="961" width="2" height="6" fill="#333333"/>
<rect x="338" y="961" width="2" height="6" fill="#333333"/>
<rect x="359" y="961" width="2" height="6" fill="#333333"/>
<rect x="381" y="961" width="2" height="6" fill="#333333"/>
<rect x="403" y="961" width="2" height="6" fill="#333333"/>
<rect x="424" y="961" width="2" height="6" fill="#333333"/>
<rect x="446" y="961" width="2" height="6" fill="#333333"/>
<rect x="468" y="961" width="2" height="6" fill="#333333"/>
<rect x="490" y="961" width="2" height="6" fill="#333333"/>
<rect x="511" y="961" width="2" height="6" fill="#333333"/>
<rect x="533" y="961" width="2" height="6" fill="#333333"/>
<rect x="555" y="961" width="2" height="6" fill="#333333"/>
<rect x="576" y="961" width="2" height="6" fill="#333333"/>
<rect x="598" y="961" width="2" height="6" fill="#333333"/>
<rect x="620" y="961" width="2" height="6" fill="#333333"/>
<rect x="642" y="961" width="2" height="6" fill="#333333"/>
<rect x="663" y="961" width="2" height="6" fill="#333333"/>
<rect x="685" y="961" width="2" height="6" fill="#333333"/>
<rect x="707" y="961" width="2" height="6" fill="#333333"/>
<rect x="728" y="961" width="2" height="6" fill="#333333"/>
<rect x="750" y="961" width="2" height="6" fill="#333333"/>
<rect x="772" y="961" width="2" height="6" fill="#333333"/>
<rect x="794" y="961" width="2" height="6" fill="#333333"/>
<rect x="815" y="961" width="2" height="6" fill="#333333"/>
<rect x="837" y="961" width="2" height="6" fill="#333333"/>
<rect x="859" y="961" width="2" height="6" fill="#333333"/>
<rect x="880" y="961" width="2" height="6" fill="#333333"/>
<rect x="902" y="961" width="2" height="6" fill="#333333"/>
<rect x="924" y="961" width="2" height="6" fill="#333333"/>
<rect x="946" y="961" width="2" height="6" fill="#333333"/>
<rect x="967" y="961" width="2" height="6" fill="#333333"/>
<rect x="989" y="961" width="2" height="6" fill="#333333"/>
<rect x="1011" y="961" width="2" height="6" fill="#333333"/>
<rect x="1033" y="961" width="2" height="6" fill="#333333"/>
<rect x="1054" y="961" width="2" height="6" fill="#333333"/>
<rect x="1076" y="961" width="2" height="6" fill="#333333"/>
<rect x="1098" y="961" width="2" height="6" fill="#333333"/>
<rect x="1119" y="961" width="2" height="6" fill="#333333"/>
<rect x="1141" y="961" width="2" height="6" fill="#333333"/>
<rect x="1163" y="961" width="2" height="6" fill="#333333"/>
<rect x="1185" y="961" width="2" height="6" fill="#333333"/>
<rect x="1206" y="961" width="2" height="6" fill="#333333"/>
<rect x="1228" y="961" width="2" height="6" fill="#333333"/>
<rect x="1250" y="961" width="2" height="6" fill="#333333"/>
<rect x="1271" y="961" width="2" height="6" fill="#333333"/>
</g>
<text x="681.89" y="47.00" font-size="23.47" fill="#1A1A1A">2</text><text x="694.95" y="47.00" font-size="23.47" fill="#1A1A1A">0</text><path d="M763 0L583 0L583 1147C540 1106 483 1065 413 1024C343 983 280 952 223 931L223 1105C323 1152 411 1210 486 1277C561 1345 614 1410 645 1473L763 1473Z" transform="translate(708.00,47.00) scale(0.011460,-0.011460)" fill="#1A1A1A"/><text x="721.05" y="47.00" font-size="23.47" fill="#1A1A1A">7</text>
<text x="46.69" y="79.00" font-size="23.47" fill="#4D4D4D">2</text><text x="59.75" y="79.00" font-size="23.47" fill="#4D4D4D">0</text>
<path d="M763 0L583 0L583 1147C540 1106 483 1065 413 1024C343 983 280 952 223 931L223 1105C323 1152 411 1210 486 1277C561 1345 614 1410 645 1473L763 1473Z" transform="translate(46.69,119.00) scale(0.011460,-0.011460)" fill="#4D4D4D"/><text x="59.75" y="119.00" font-size="23.47" fill="#4D4D4D">5</text>
<path d="M763 0L583 0L583 1147C540 1106 483 1065 413 1024C343 983 280 952 223 931L223 1105C323 1152 411 1210 486 1277C561 1345 614 1410 645 1473L763 1473Z" transform="translate(46.69,160.00) scale(0.011460,-0.011460)" fill="#4D4D4D"/><text x="59.75" y="160.00" font-size="23.47" fill="#4D4D4D">0</text>
<text x="59.75" y="201.00" font-size="23.47" fill="#4D4D4D">5</text>
<text x="59.75" y="241.00" font-size="23.47" fill="#4D4D4D">0</text>
<text x="681.89" y="287.00" font-size="23.47" fill="#1A1A1A">2</text><text x="694.95" y="287.00" font-size="23.47" fill="#1A1A1A">0</text><path d="M763 0L583 0L583 1147C540 1106 483 1065 413 1024C343 983 280 952 223 931L223 1105C323 1152 411 1210 486 1277C561 1345 614 1410 645 1473L763 1473Z" transform="translate(708.00,287.00) scale(0.011460,-0.011460)" fill="#1A1A1A"/><text x="721.05" y="287.00" font-size="23.47" fill="#1A1A1A">8</text>
<text x="46.69" y="319.00" font-size="23.47" fill="#4D4D4D">2</text><text x="59.75" y="319.00" font-size="23.47" fill="#4D4D4D">0</text>
<path d="M763 0L583 0L583 1147C540 1106 483 1065 413 1024C343 983 280 952 223 931L223 1105C323 1152 411 1210 486 1277C561 1345 614 1410 645 1473L763 1473Z" transform="translate(46.69,359.00) scale(0.011460,-0.011460)" fill="#4D4D4D"/><text x="59.75" y="359.00" font-size="23.47" fill="#4D4D4D">5</text>
<path d="M763 0L583 0L583 1147C540 1106 483 1065 413 1024C343 983 280 952 223 931L223 1105C323 1152 411 1210 486 1277C561 1345 614 1410 645 1473L763 1473Z" transform="translate(46.69,400.00) scale(0.011460,-0.011460)" fill="#4D4D4D"/><text x="59.75" y="400.00" font-size="23.47" fill="#4D4D4D">0</text>
<text x="59.75" y="441.00" font-size="23.47" fill="#4D4D4D">5</text>
<text x="59.75" y="482.00" font-size="23.47" fill="#4D4D4D">0</text>
<text x="681.89" y="528.00" font-size="23.47" fill="#1A1A1A">2</text><text x="694.95" y="528.00" font-size="23.47" fill="#1A1A1A">0</text><path d="M763 0L583 0L583 1147C540 1106 483 1065 413 1024C343 983 280 952 223 931L223 1105C323 1152 411 1210 486 1277C561 1345 614 1410 645 1473L763 1473Z" transform="translate(708.00,528.00) scale(0.011460,-0.011460)" fill="#1A1A1A"/><text x="721.05" y="528.00" font-size="23.47" fill="#1A1A1A">9</text>
<text x="46.69" y="559.00" font-size="23.47" fill="#4D4D4D">2</text><text x="59.75" y="559.00" font-size="23.47" fill="#4D4D4D">0</text>
<path d="M763 0L583 0L583 1147C540 1106 483 1065 413 1024C343 983 280 952 223 931L223 1105C323 1152 411 1210 486 1277C561 1345 614 1410 645 1473L763 1473Z" transform="translate(46.69,600.00) scale(0.011460,-0.011460)" fill="#4D4D4D"/><text x="59.75" y="600.00" font-size="23.47" fill="#4D4D4D">5</text>
<path d="M763 0L583 0L583 1147C540 1106 483 1065 413 1024C343 983 280 952 223 931L223 1105C323 1152 411 1210 486 1277C561 1345 614 1410 645 1473L763 1473Z" transform="translate(46.69,640.00) scale(0.011460,-0.011460)" fill="#4D4D4D"/><text x="59.75" y="640.00" font-size="23.47" fill="#4D4D4D">0</text>
<text x="59.75" y="681.00" font-size="23.47" fill="#4D4D4D">5</text>
<text x="59.75" y="722.00" font-size="23.47" fill="#4D4D4D">0</text>
<text x="681.89" y="768.00" font-size="23.47" fill="#1A1A1A">2</text><text x="694.95" y="768.00" font-size="23.47" fill="#1A1A1A">0</text><text x="708.00" y="768.00" font-size="23.47" fill="#1A1A1A">2</text><text x="721.05" y="768.00" font-size="23.47" fill="#1A1A1A">0</text>
<text x="46.69" y="799.00" font-size="23.47" fill="#4D4D4D">2</text><text x="59.75" y="799.00" font-size="23.47" fill="#4D4D4D">0</text>
<path d="M763 0L583 0L583 1147C540 1106 483 1065 413 1024C343 983 280 952 223 931L223 1105C323 1152 411 1210 486 1277C561 1345 614 1410 645 1473L763 1473Z" transform="translate(46.69,840.00) scale(0.011460,-0.011460)" fill="#4D4D4D"/><text x="59.75" y="840.00" font-size="23.47" fill="#4D4D4D">5</text>
<path d="M763 0L583 0L583 1147C540 1106 483 1065 413 1024C343 983 280 952 223 931L223 1105C323 1152 411 1210 486 1277C561 1345 614 1410 645 1473L763 1473Z" transform="translate(46.69,880.00) scale(0.011460,-0.011460)" fill="#4D4D4D"/><text x="59.75" y="880.00" font-size="23.47" fill="#4D4D4D">0</text>
<text x="59.75" y="921.00" font-size="23.47" fill="#4D4D4D">5</text>
<text x="59.75" y="962.00" font-size="23.47" fill="#4D4D4D">0</text>
<g transform="translate(152.90,986.5) rotate(-90)"><path d="M763 0L583 0L583 1147C540 1106 483 1065 413 1024C343 983 280 952 223 931L223 1105C323 1152 411 1210 486 1277C561 1345 614 1410 645 1473L763 1473Z" transform="translate(-6.53,0.00) scale(0.011460,-0.011460)" fill="#4D4D4D"/></g>
<g transform="translate(174.90,986.5) rotate(-90)"><text x="-6.53" y="0.00" font-size="23.47" fill="#4D4D4D">2</text></g>
<g transform="translate(195.90,986.5) rotate(-90)"><text x="-6.53" y="0.00" font-size="23.47" fill="#4D4D4D">3</text></g>
<g transform="translate(217.90,986.5) rotate(-90)"><text x="-6.53" y="0.00" font-size="23.47" fill="#4D4D4D">4</text></g>
<g transform="translate(239.90,986.5) rotate(-90)"><text x="-6.53" y="0.00" font-size="23.47" fill="#4D4D4D">5</text></g>
<g transform="translate(261.90,986.5) rotate(-90)"><text x="-6.53" y="0.00" font-size="23.47" fill="#4D4D4D">6</text></g>
<g transform="translate(282.90,986.5) rotate(-90)"><text x="-6.53" y="0.00" font-size="23.47" fill="#4D4D4D">7</text></g>
<g transform="translate(304.90,986.5) rotate(-90)"><text x="-6.53" y="0.00" font-size="23.47" fill="#4D4D4D">8</text></g>
<g transform="translate(326.90,986.5) rotate(-90)"><text x="-6.53" y="0.00" font-size="23.47" fill="#4D4D4D">9</text></g>
<g transform="translate(348.90,986.5) rotate(-90)"><path d="M763 0L583 0L583 1147C540 1106 483 1065 413 1024C343 983 280 952 223 931L223 1105C323 1152 411 1210 486 1277C561 1345 614 1410 645 1473L763 1473Z" transform="translate(-13.05,0.00) scale(0.011460,-0.011460)" fill="#4D4D4D"/><text x="0.00" y="0.00" font-size="23.47" fill="#4D4D4D">0</text></g>
<g transform="translate(369.90,986.5) rotate(-90)"><path d="M763 0L583 0L583 1147C540 1106 483 1065 413 1024C343 983 280 952 223 931L223 1105C323 1152 411 1210 486 1277C561 1345 614 1410 645 1473L763 1473Z" transform="translate(-13.05,0.00) scale(0.011460,-0.011460)" fill="#4D4D4D"/><path d="M763 0L583 0L583 1147C540 1106 483 1065 413 1024C343 983 280 952 223 931L223 1105C323 1152 411 1210 486 1277C561 1345 614 1410 645 1473L763 1473Z" transform="translate(0.00,0.00) scale(0.011460,-0.011460)" fill="#4D4D4D"/></g>
<g transform="translate(391.90,986.5) rotate(-90)"><path d="M763 0L583 0L583 1147C540 1106 483 1065 413 1024C343 983 280 952 223 931L223 1105C323 1152 411 1210 486 1277C561 1345 614 1410 645 1473L763 1473Z" transform="translate(-13.05,0.00) scale(0.011460,-0.011460)" fill="#4D4D4D"/><text x="0.00" y="0.00" font-size="23.47" fill="#4D4D4D">2</text></g>
<g transform="translate(413.90,986.5) rotate(-90)"><path d="M763 0L583 0L583 1147C540 1106 483 1065 413 1024C343 983 280 952 223 931L223 1105C323 1152 411 1210 486 1277C561 1345 614 1410 645 1473L763 1473Z" transform="translate(-13.05,0.00) scale(0.011460,-0.011460)" fill="#4D4D4D"/><text x="0.00" y="0.00" font-size="23.47" fill="#4D4D4D">3</text></g>
<g transform="translate(434.90,986.5) rotate(-90)"><path d="M763 0L583 0L583 1147C540 1106 483 1065 413 1024C343 983 280 952 223 931L223 1105C323 1152 411 1210 486 1277C561 1345 614 1410 645 1473L763 1473Z" transform="translate(-13.05,0.00) scale(0.011460,-0.011460)" fill="#4D4D4D"/><text x="0.00" y="0.00" font-size="23.47" fill="#4D4D4D">4</text></g>
<g transform="translate(456.90,986.5) rotate(-90)"><path d="M763 0L583 0L583 1147C540 1106 483 1065 413 1024C343 983 280 952 223 931L223 1105C323 1152 411 1210 486 1277C561 1345 614 1410 645 1473L763 1473Z" transform="translate(-13.05,0.00) scale(0.011460,-0.011460)" fill="#4D4D4D"/><text x="0.00" y="0.00" font-size="23.47" fill="#4D4D4D">5</text></g>
<g transform="translate(478.90,986.5) rotate(-90)"><path d="M763 0L583 0L583 1147C540 1106 483 1065 413 1024C343 983 280 952 223 931L223 1105C323 1152 411 1210 486 1277C561 1345 614 1410 645 1473L763 1473Z" transform="translate(-13.05,0.00) scale(0.011460,-0.011460)" fill="#4D4D4D"/><text x="0.00" y="0.00" font-size="23.47" fill="#4D4D4D">6</text></g>
<g transform="translate(500.90,986.5) rotate(-90)"><path d="M763 0L583 0L583 1147C540 1106 483 1065 413 1024C343 983 280 952 223 931L223 1105C323 1152 411 1210 486 1277C561 1345 614 1410 645 1473L763 1473Z" transform="translate(-13.05,0.00) scale(0.011460,-0.011460)" fill="#4D4D4D"/><text x="0.00" y="0.00" font-size="23.47" fill="#4D4D4D">7</text></g>
<g transform="translate(521.90,986.5) rotate(-90)"><path d="M763 0L583 0L583 1147C540 1106 483 1065 413 1024C343 983 280 952 223 931L223 1105C323 1152 411 1210 486 1277C561 1345 614 1410 645 1473L763 1473Z" transform="translate(-13.05,0.00) scale(0.011460,-0.011460)" fill="#4D4D4D"/><text x="0.00" y="0.00" font-size="23.47" fill="#4D4D4D">8</text></g>
<g transform="translate(543.90,986.5) rotate(-90)"><path d="M763 0L583 0L583 1147C540 1106 483 1065 413 1024C343 983 280 952 223 931L223 1105C323 1152 411 1210 486 1277C561 1345 614 1410 645 1473L763 1473Z" transform="translate(-13.05,0.00) scale(0.011460,-0.011460)" fill="#4D4D4D"/><text x="0.00" y="0.00" font-size="23.47" fill="#4D4D4D">9</text></g>
<g transform="translate(565.90,986.5) rotate(-90)"><text x="-13.05" y="0.00" font-size="23.47" fill="#4D4D4D">2</text><text x="0.00" y="0.00" font-size="23.47" fill="#4D4D4D">0</text></g>
<g transform="translate(586.90,986.5) rotate(-90)"><text x="-13.05" y="0.00" font-size="23.47" fill="#4D4D4D">2</text><path d="M763 0L583 0L583 1147C540 1106 483 1065 413 1024C343 983 280 952 223 931L223 1105C323 1152 411 1210 486 1277C561 1345 614 1410 645 1473L763 1473Z" transform="translate(0.00,0.00) scale(0.011460,-0.011460)" fill="#4D4D4D"/></g>
<g transform="translate(608.90,986.5) rotate(-90)"><text x="-13.05" y="0.00" font-size="23.47" fill="#4D4D4D">2</text><text x="0.00" y="0.00" font-size="23.47" fill="#4D4D4D">2</text></g>
<g transform="translate(630.90,986.5) rotate(-90)"><text x="-13.05" y="0.00" font-size="23.47" fill="#4D4D4D">2</text><text x="0.00" y="0.00" font-size="23.47" fill="#4D4D4D">3</text></g>
<g transform="translate(652.90,986.5) rotate(-90)"><text x="-13.05" y="0.00" font-size="23.47" fill="#4D4D4D">2</text><text x="0.00" y="0.00" font-size="23.47" fill="#4D4D4D">4</text></g>
<g transform="translate(673.90,986.5) rotate(-90)"><text x="-13.05" y="0.00" font-size="23.47" fill="#4D4D4D">2</text><text x="0.00" y="0.00" font-size="23.47" fill="#4D4D4D">5</text></g>
<g transform="translate(695.90,986.5) rotate(-90)"><text x="-13.05" y="0.00" font-size="23.47" fill="#4D4D4D">2</text><text x="0.00" y="0.00" font-size="23.47" fill="#4D4D4D">6</text></g>
<g transform="translate(717.90,986.5) rotate(-90)"><text x="-13.05" y="0.00" font-size="23.47" fill="#4D4D4D">2</text><text x="0.00" y="0.00" font-size="23.47" fill="#4D4D4D">7</text></g>
<g transform="translate(738.90,986.5) rotate(-90)"><text x="-13.05" y="0.00" font-size="23.47" fill="#4D4D4D">2</text><text x="0.00" y="0.00" font-size="23.47" fill="#4D4D4D">8</text></g>
<g transform="translate(760.90,986.5) rotate(-90)"><text x="-13.05" y="0.00" font-size="23.47" fill="#4D4D4D">2</text><text x="0.00" y="0.00" font-size="23.47" fill="#4D4D4D">9</text></g>
<g transform="translate(782.90,986.5) rotate(-90)"><text x="-13.05" y="0.00" font-size="23.47" fill="#4D4D4D">3</text><text x="0.00" y="0.00" font-size="23.47" fill="#4D4D4D">0</text></g>
<g transform="translate(804.90,986.5) rotate(-90)"><text x="-13.05" y="0.00" font-size="23.47" fill="#4D4D4D">3</text><path d="M763 0L583 0L583 1147C540 1106 483 1065 413 1024C343 983 280 952 223 931L223 1105C323 1152 411 1210 486 1277C561 1345 614 1410 645 1473L763 1473Z" transform="translate(0.00,0.00) scale(0.011460,-0.011460)" fill="#4D4D4D"/></g>
<g transform="translate(825.90,986.5) rotate(-90)"><text x="-13.05" y="0.00" font-size="23.47" fill="#4D4D4D">3</text><text x="0.00" y="0.00" font-size="23.47" fill="#4D4D4D">2</text></g>
<g transform="translate(847.90,986.5) rotate(-90)"><text x="-13.05" y="0.00" font-size="23.47" fill="#4D4D4D">3</text><text x="0.00" y="0.00" font-size="23.47" fill="#4D4D4D">3</text></g>
<g transform="translate(869.90,986.5) rotate(-90)"><text x="-13.05" y="0.00" font-size="23.47" fill="#4D4D4D">3</text><text x="0.00" y="0.00" font-size="23.47" fill="#4D4D4D">4</text></g>
<g transform="translate(890.90,986.5) rotate(-90)"><text x="-13.05" y="0.00" font-size="23.47" fill="#4D4D4D">3</text><text x="0.00" y="0.00" font-size="23.47" fill="#4D4D4D">5</text></g>
<g transform="translate(912.90,986.5) rotate(-90)"><text x="-13.05" y="0.00" font-size="23.47" fill="#4D4D4D">3</text><text x="0.00" y="0.00" font-size="23.47" fill="#4D4D4D">6</text></g>
<g transform="translate(934.90,986.5) rotate(-90)"><text x="-13.05" y="0.00" font-size="23.47" fill="#4D4D4D">3</text><text x="0.00" y="0.00" font-size="23.47" fill="#4D4D4D">7</text></g>
<g transform="translate(956.90,986.5) rotate(-90)"><text x="-13.05" y="0.00" font-size="23.47" fill="#4D4D4D">3</text><text x="0.00" y="0.00" font-size="23.47" fill="#4D4D4D">8</text></g>
<g transform="translate(977.90,986.5) rotate(-90)"><text x="-13.05" y="0.00" font-size="23.47" fill="#4D4D4D">3</text><text x="0.00" y="0.00" font-size="23.47" fill="#4D4D4D">9</text></g>
<g transform="translate(999.90,986.5) rotate(-90)"><text x="-13.05" y="0.00" font-size="23.47" fill="#4D4D4D">4</text><text x="0.00" y="0.00" font-size="23.47" fill="#4D4D4D">0</text></g>
<g transform="translate(1021.90,986.5) rotate(-90)"><text x="-13.05" y="0.00" font-size="23.47" fill="#4D4D4D">4</text><path d="M763 0L583 0L583 1147C540 1106 483 1065 413 1024C343 983 280 952 223 931L223 1105C323 1152 411 1210 486 1277C561 1345 614 1410 645 1473L763 1473Z" transform="translate(0.00,0.00) scale(0.011460,-0.011460)" fill="#4D4D4D"/></g>
<g transform="translate(1043.90,986.5) rotate(-90)"><text x="-13.05" y="0.00" font-size="23.47" fill="#4D4D4D">4</text><text x="0.00" y="0.00" font-size="23.47" fill="#4D4D4D">2</text></g>
<g transform="translate(1064.90,986.5) rotate(-90)"><text x="-13.05" y="0.00" font-size="23.47" fill="#4D4D4D">4</text><text x="0.00" y="0.00" font-size="23.47" fill="#4D4D4D">3</text></g>
<g transform="translate(1086.90,986.5) rotate(-90)"><text x="-13.05" y="0.00" font-size="23.47" fill="#4D4D4D">4</text><text x="0.00" y="0.00" font-size="23.47" fill="#4D4D4D">4</text></g>
<g transform="translate(1108.90,986.5) rotate(-90)"><text x="-13.05" y="0.00" font-size="23.47" fill="#4D4D4D">4</text><text x="0.00" y="0.00" font-size="23.47" fill="#4D4D4D">5</text></g>
<g transform="translate(1129.90,986.5) rotate(-90)"><text x="-13.05" y="0.00" font-size="23.47" fill="#4D4D4D">4</text><text x="0.00" y="0.00" font-size="23.47" fill="#4D4D4D">6</text></g>
<g transform="translate(1151.90,986.5) rotate(-90)"><text x="-13.05" y="0.00" font-size="23.47" fill="#4D4D4D">4</text><text x="0.00" y="0.00" font-size="23.47" fill="#4D4D4D">7</text></g>
<g transform="translate(1173.90,986.5) rotate(-90)"><text x="-13.05" y="0.00" font-size="23.47" fill="#4D4D4D">4</text><text x="0.00" y="0.00" font-size="23.47" fill="#4D4D4D">8</text></g>
<g transform="translate(1195.90,986.5) rotate(-90)"><text x="-13.05" y="0.00" font-size="23.47" fill="#4D4D4D">4</text><text x="0.00" y="0.00" font-size="23.47" fill="#4D4D4D">9</text></g>
<g transform="translate(1216.90,986.5) rotate(-90)"><text x="-13.05" y="0.00" font-size="23.47" fill="#4D4D4D">5</text><text x="0.00" y="0.00" font-size="23.47" fill="#4D4D4D">0</text></g>
<g transform="translate(1238.90,986.5) rotate(-90)"><text x="-13.05" y="0.00" font-size="23.47" fill="#4D4D4D">5</text><path d="M763 0L583 0L583 1147C540 1106 483 1065 413 1024C343 983 280 952 223 931L223 1105C323 1152 411 1210 486 1277C561 1345 614 1410 645 1473L763 1473Z" transform="translate(0.00,0.00) scale(0.011460,-0.011460)" fill="#4D4D4D"/></g>
<g transform="translate(1260.90,986.5) rotate(-90)"><text x="-13.05" y="0.00" font-size="23.47" fill="#4D4D4D">5</text><text x="0.00" y="0.00" font-size="23.47" fill="#4D4D4D">2</text></g>
<g transform="translate(1281.90,986.5) rotate(-90)"><text x="-13.05" y="0.00" font-size="23.47" fill="#4D4D4D">5</text><text x="0.00" y="0.00" font-size="23.47" fill="#4D4D4D">3</text></g>
<text x="707.6" y="1028" font-size="29.33" fill="#000" text-anchor="middle" textLength="269.6" lengthAdjust="spacingAndGlyphs">Epidemiological Week</text>
<text transform="translate(36.5,510) rotate(-90)" font-size="29.33" fill="#000" text-anchor="middle" textLength="126" lengthAdjust="spacingAndGlyphs">Outbreaks</text>
<rect x="396" y="1078" width="43" height="42" fill="#46A014" fill-opacity="0.2" shape-rendering="crispEdges"/>
<text x="454" y="1109" font-size="23.47" fill="#000" textLength="230" lengthAdjust="spacingAndGlyphs">Respiratory Outbreaks</text>
<rect x="762" y="1098" width="37" height="2" fill="#36A10A" shape-rendering="crispEdges"/>
<g shape-rendering="crispEdges"><polygon points="778,1094 782,1094 782,1095 783,1095 783,1096 784,1096 784,1097 785,1097 785,1101 784,1101 784,1102 783,1102 783,1103 782,1103 782,1104 778,1104 778,1103 777,1103 777,1102 776,1102 776,1101 775,1101 775,1097 776,1097 776,1096 777,1096 777,1095 778,1095" fill="#36A10A"/><polygon points="778,1095 782,1095 782,1096 783,1096 783,1097 784,1097 784,1101 783,1101 783,1102 782,1102 782,1103 778,1103 778,1102 777,1102 777,1101 776,1101 776,1097 777,1097 777,1096 778,1096" fill="#46A61E"/></g>
<text x="817.4" y="1109" font-size="23.47" fill="#000" textLength="80.650" lengthAdjust="spacingAndGlyphs">COVID-</text>
<path d="M763 0L583 0L583 1147C540 1106 483 1065 413 1024C343 983 280 952 223 931L223 1105C323 1152 411 1210 486 1277C561 1345 614 1410 645 1473L763 1473Z" transform="translate(898.050,1109) scale(0.011460,-0.011460)" fill="#000"/>
<text x="910.866" y="1109" font-size="23.47" fill="#000" textLength="125.524" lengthAdjust="spacingAndGlyphs">9 Outbreaks</text>
</svg></body></html>
